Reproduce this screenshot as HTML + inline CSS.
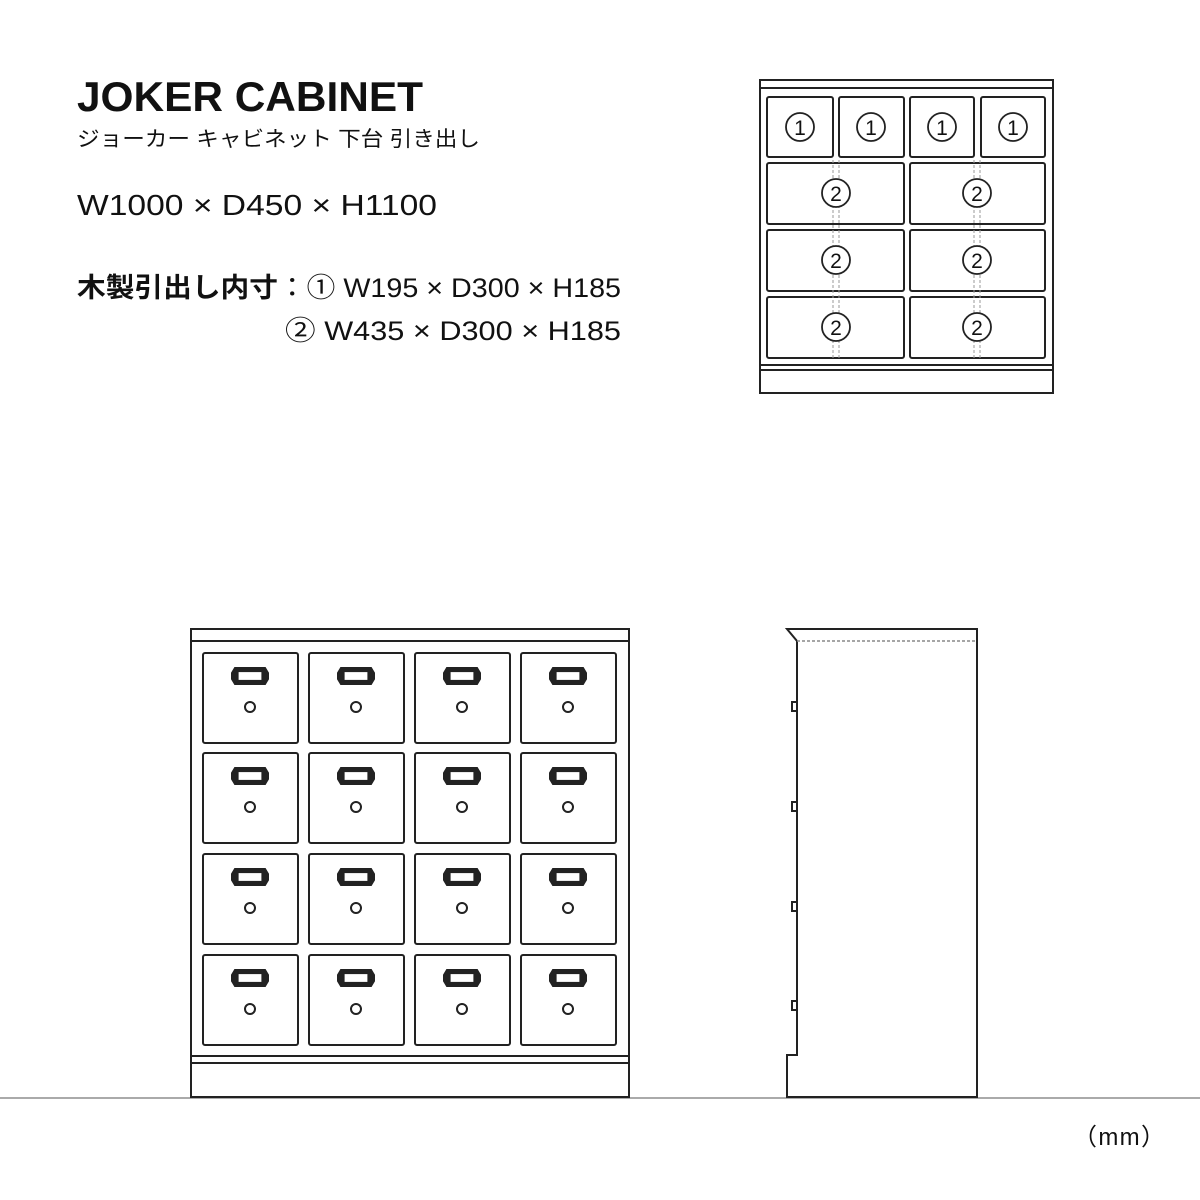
<!DOCTYPE html>
<html><head><meta charset="utf-8"><style>
html,body{margin:0;padding:0;background:#fff;}
svg{display:block;}
text{font-family:"Liberation Sans","Noto Sans CJK JP",sans-serif;fill:#111;}
</style></head><body>
<svg width="1200" height="1200" viewBox="0 0 1200 1200" xmlns="http://www.w3.org/2000/svg">
<rect width="1200" height="1200" fill="#fff"/>
<text x="77" y="111" font-size="42" font-weight="bold" textLength="346" lengthAdjust="spacingAndGlyphs">JOKER CABINET</text>
<text x="77" y="146" font-size="21" textLength="403" lengthAdjust="spacingAndGlyphs">ジョーカー キャビネット 下台 引き出し</text>
<text x="77" y="215" font-size="29" textLength="360" lengthAdjust="spacingAndGlyphs">W1000 × D450 × H1100</text>
<text x="77" y="297" font-size="27" textLength="544" lengthAdjust="spacingAndGlyphs"><tspan font-weight="bold">木製引出し内寸</tspan>：① W195 × D300 × H185</text>
<text x="285" y="340" font-size="27" textLength="336" lengthAdjust="spacingAndGlyphs">② W435 × D300 × H185</text>
<text x="1073" y="1145" font-size="24" textLength="92" lengthAdjust="spacing">（mm）</text>

<g fill="none" stroke="#222" stroke-width="2">
<rect x="760" y="80" width="293" height="313"/>
<line x1="760" y1="88" x2="1053" y2="88"/>
<line x1="760" y1="365" x2="1053" y2="365"/>
<line x1="760" y1="370" x2="1053" y2="370"/>
<rect x="767" y="97" width="66" height="60" rx="2"/>
<rect x="839" y="97" width="65" height="60" rx="2"/>
<rect x="910" y="97" width="64" height="60" rx="2"/>
<rect x="981" y="97" width="64" height="60" rx="2"/>
<rect x="767" y="163" width="137" height="61" rx="2"/>
<rect x="910" y="163" width="135" height="61" rx="2"/>
<rect x="767" y="230" width="137" height="61" rx="2"/>
<rect x="910" y="230" width="135" height="61" rx="2"/>
<rect x="767" y="297" width="137" height="61" rx="2"/>
<rect x="910" y="297" width="135" height="61" rx="2"/>
</g>
<g fill="none" stroke="#999" stroke-width="1" stroke-dasharray="3,2">
<line x1="833" y1="160" x2="833" y2="360"/><line x1="839" y1="160" x2="839" y2="360"/>
<line x1="974" y1="160" x2="974" y2="360"/><line x1="980" y1="160" x2="980" y2="360"/>
</g>
<g fill="#fff" stroke="#222" stroke-width="1.8">
<circle cx="800" cy="127" r="14"/><circle cx="871" cy="127" r="14"/><circle cx="942" cy="127" r="14"/><circle cx="1013" cy="127" r="14"/>
<circle cx="836" cy="193" r="14"/><circle cx="977" cy="193" r="14"/>
<circle cx="836" cy="260" r="14"/><circle cx="977" cy="260" r="14"/>
<circle cx="836" cy="327" r="14"/><circle cx="977" cy="327" r="14"/>
</g>
<g font-size="21" text-anchor="middle">
<text x="800" y="135">1</text><text x="871" y="135">1</text><text x="942" y="135">1</text><text x="1013" y="135">1</text>
<text x="836" y="201">2</text><text x="977" y="201">2</text>
<text x="836" y="268">2</text><text x="977" y="268">2</text>
<text x="836" y="335">2</text><text x="977" y="335">2</text>
</g>

<line x1="0" y1="1098" x2="1200" y2="1098" stroke="#aaa" stroke-width="2"/>

<g fill="none" stroke="#222" stroke-width="2">
<rect x="191" y="629" width="438" height="468"/>
<line x1="191" y1="641" x2="629" y2="641"/>
<line x1="191" y1="1056" x2="629" y2="1056"/>
<line x1="191" y1="1063" x2="629" y2="1063"/>
</g>
<g fill="none" stroke="#222" stroke-width="2">
<rect x="203" y="653" width="95" height="90" rx="2"/><rect x="309" y="653" width="95" height="90" rx="2"/><rect x="415" y="653" width="95" height="90" rx="2"/><rect x="521" y="653" width="95" height="90" rx="2"/>
<rect x="203" y="753" width="95" height="90" rx="2"/><rect x="309" y="753" width="95" height="90" rx="2"/><rect x="415" y="753" width="95" height="90" rx="2"/><rect x="521" y="753" width="95" height="90" rx="2"/>
<rect x="203" y="854" width="95" height="90" rx="2"/><rect x="309" y="854" width="95" height="90" rx="2"/><rect x="415" y="854" width="95" height="90" rx="2"/><rect x="521" y="854" width="95" height="90" rx="2"/>
<rect x="203" y="955" width="95" height="90" rx="2"/><rect x="309" y="955" width="95" height="90" rx="2"/><rect x="415" y="955" width="95" height="90" rx="2"/><rect x="521" y="955" width="95" height="90" rx="2"/>
</g>
<defs>
<g id="h">
<path d="M-15,-8 L15,-8 L18,-3 L18,3 L15,8 L-15,8 L-18,3 L-18,-3 Z" fill="#222" stroke="#222" stroke-width="2"/>
<rect x="-12" y="-4.5" width="24" height="9" fill="#fff" stroke="#222" stroke-width="1.2"/>
<circle cx="0" cy="31" r="5" fill="none" stroke="#222" stroke-width="2"/>
</g>
</defs>
<use href="#h" x="250" y="676"/><use href="#h" x="356" y="676"/><use href="#h" x="462" y="676"/><use href="#h" x="568" y="676"/>
<use href="#h" x="250" y="776"/><use href="#h" x="356" y="776"/><use href="#h" x="462" y="776"/><use href="#h" x="568" y="776"/>
<use href="#h" x="250" y="877"/><use href="#h" x="356" y="877"/><use href="#h" x="462" y="877"/><use href="#h" x="568" y="877"/>
<use href="#h" x="250" y="978"/><use href="#h" x="356" y="978"/><use href="#h" x="462" y="978"/><use href="#h" x="568" y="978"/>

<g fill="none" stroke="#222" stroke-width="2">
<path d="M797,641 L787,629 L977,629 L977,1097 L787,1097 L787,1055 L797,1055 Z"/>
</g>
<line x1="797" y1="641" x2="977" y2="641" stroke="#888" stroke-width="1.5" stroke-dasharray="3,2"/>
<g fill="#fff" stroke="#222" stroke-width="2">
<rect x="792" y="702" width="5" height="9"/><rect x="792" y="802" width="5" height="9"/><rect x="792" y="902" width="5" height="9"/><rect x="792" y="1001" width="5" height="9"/>
</g>
</svg>
</body></html>
